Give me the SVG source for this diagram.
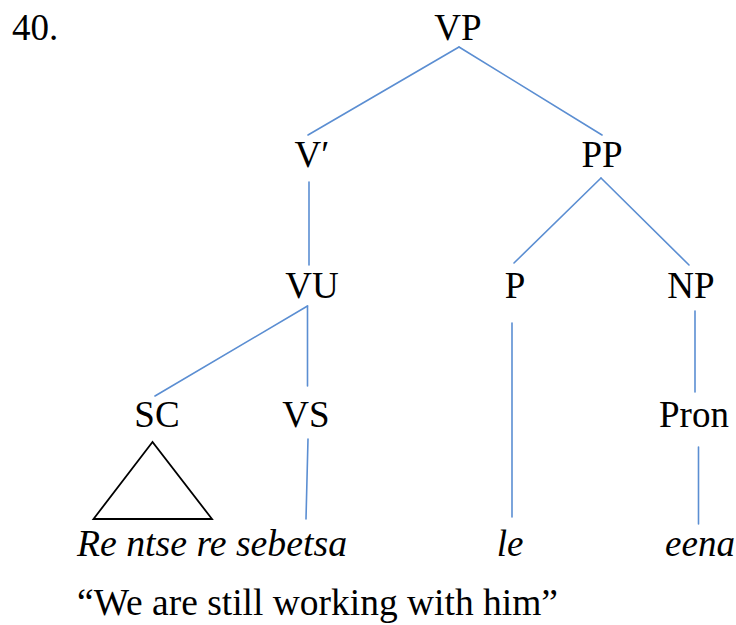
<svg xmlns="http://www.w3.org/2000/svg" width="736" height="625" viewBox="0 0 736 625">
  <style>
    text { font-family: "Liberation Serif", "Times New Roman", serif; font-size: 37px; fill: #000; }
    .lbl { text-anchor: middle; }
    .it { font-style: italic; }
    .edge { stroke: #5b8ed2; stroke-width: 1.6; fill: none; stroke-linecap: round; }
  </style>
  <rect width="736" height="625" fill="#fff"/>

  <text x="12" y="40">40.</text>

  <!-- connectors -->
  <g id="edges">
    <line class="edge" x1="459" y1="47" x2="308" y2="135"/>
    <line class="edge" x1="459" y1="47" x2="602" y2="135"/>
    <line class="edge" x1="309" y1="182" x2="309" y2="265"/>
    <line class="edge" x1="601" y1="178" x2="514" y2="263"/>
    <line class="edge" x1="601" y1="178" x2="689" y2="265"/>
    <line class="edge" x1="307.5" y1="306" x2="155" y2="396"/>
    <line class="edge" x1="307.5" y1="306" x2="307.5" y2="386"/>
    <line class="edge" x1="512" y1="323" x2="512" y2="517"/>
    <line class="edge" x1="695" y1="311" x2="695" y2="392"/>
    <line class="edge" x1="308" y1="439" x2="306" y2="519"/>
    <line class="edge" x1="698.5" y1="447" x2="698.5" y2="524"/>
  </g>

  <g id="VP"><text class="lbl" x="458" y="40">VP</text></g>
  <g id="Vbar"><text class="lbl" x="312" y="167">V′</text></g>
  <g id="PP"><text class="lbl" x="602" y="167">PP</text></g>
  <g id="VU"><text class="lbl" x="312" y="298">VU</text></g>
  <g id="P"><text class="lbl" x="515" y="298">P</text></g>
  <g id="NP"><text class="lbl" x="691" y="298">NP</text></g>
  <g id="SC">
    <text class="lbl" x="157" y="427">SC</text>
    <polygon points="152.5,442 93.5,519 212,519" fill="none" stroke="#000" stroke-width="1.8"/>
  </g>
  <g id="VS"><text class="lbl" x="306" y="427">VS</text></g>
  <g id="Pron"><text class="lbl" x="694" y="427">Pron</text></g>

  <g id="words">
    <text class="it" x="77" y="556" textLength="270" lengthAdjust="spacingAndGlyphs">Re ntse re sebetsa</text>
    <text class="it lbl" x="510" y="556">le</text>
    <text class="it lbl" x="700" y="556">eena</text>
  </g>

  <g id="gloss"><text x="77" y="615" textLength="481" lengthAdjust="spacingAndGlyphs">“We are still working with him”</text></g>
</svg>
